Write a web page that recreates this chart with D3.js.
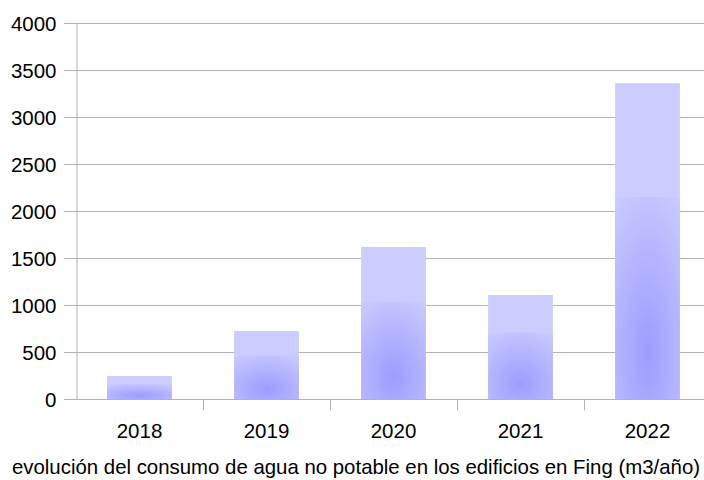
<!DOCTYPE html>
<html>
<head>
<meta charset="utf-8">
<script src="https://cdn.jsdelivr.net/npm/d3@7"></script>
<style>
  body { margin: 0; background: #fff; }
  text { font-family: "Liberation Sans", Arial, sans-serif; fill: #000; }
</style>
</head>
<body>
<div id="chart"></div>
<script>
var years = ["2018", "2019", "2020", "2021", "2022"];
var consumo = [245, 723, 1617, 1106, 3360];
var yTicks = [0, 500, 1000, 1500, 2000, 2500, 3000, 3500, 4000];
var titulo = "evolución del consumo de agua no potable en los edificios en Fing (m3/año)";

var W = 704, H = 480;
var mLeft = 76, mTop = 23, plotW = 635, plotH = 376;

var svg = d3.select("#chart").append("svg").attr("width", W).attr("height", H);

var defs = svg.append("defs");
var grad = defs.append("radialGradient").attr("id", "barGrad")
    .attr("cx", "50%").attr("cy", "77%").attr("r", "90%");
grad.append("stop").attr("offset", "0%").attr("stop-color", "#9c9cff");
grad.append("stop").attr("offset", "100%").attr("stop-color", "#cacaff");

var x = d3.scaleBand().domain(years).range([mLeft, mLeft + plotW]).paddingInner(0.49).paddingOuter(0.245);
var y = d3.scaleLinear().domain([0, 4000]).range([mTop + plotH, mTop]);

// grid
svg.append("g").selectAll("line").data(yTicks).enter().append("line")
    .attr("x1", mLeft - 12).attr("x2", W)
    .attr("y1", function(d){ return Math.round(y(d)) + 0.5; })
    .attr("y2", function(d){ return Math.round(y(d)) + 0.5; })
    .attr("stroke", "#b3b3b3").attr("stroke-width", 1);

// y axis
var yAxis = d3.axisLeft(y).tickValues(yTicks).tickSize(0).tickPadding(20).tickFormat(d3.format("d"));
var gy = svg.append("g").attr("transform", "translate(" + (mLeft + 0.5) + ",0)").call(yAxis);
gy.select(".domain").attr("stroke", "#b3b3b3");
gy.selectAll("text").style("font-size", "20.5px").attr("dy", "0.35em");

// bars
var bars = svg.append("g").selectAll("g").data(years).enter().append("g");
bars.append("rect")
    .attr("x", function(d){ return x(d); })
    .attr("width", x.bandwidth())
    .attr("y", function(d, i){ return y(consumo[i]); })
    .attr("height", function(d, i){ return y(0) - y(consumo[i]); })
    .attr("fill", "#ccccff");
bars.append("rect")
    .attr("x", function(d){ return x(d); })
    .attr("width", x.bandwidth())
    .attr("y", function(d, i){ return y(consumo[i] * 0.64); })
    .attr("height", function(d, i){ return y(0) - y(consumo[i] * 0.64); })
    .attr("fill", "url(#barGrad)");

// x axis
var xAxis = d3.axisBottom(x).tickSize(0).tickPadding(24);
var gx = svg.append("g").attr("transform", "translate(0," + (y(0) + 0.5) + ")").call(xAxis);
gx.select(".domain").remove();
gx.selectAll("text").style("font-size", "20.5px");
var bounds = years.map(function(d){ return x(d) - x.step() * x.paddingInner() / 2; }).slice(1);
gx.selectAll(".sep").data(bounds).enter().append("line")
    .attr("x1", function(d){ return Math.round(d) + 0.5; })
    .attr("x2", function(d){ return Math.round(d) + 0.5; })
    .attr("y1", 0).attr("y2", 11)
    .attr("stroke", "#b3b3b3");

svg.append("text").attr("x", 356).attr("y", 474)
    .attr("text-anchor", "middle").style("font-size", "20.4px")
    .text(titulo);
</script>
</body>
</html>
